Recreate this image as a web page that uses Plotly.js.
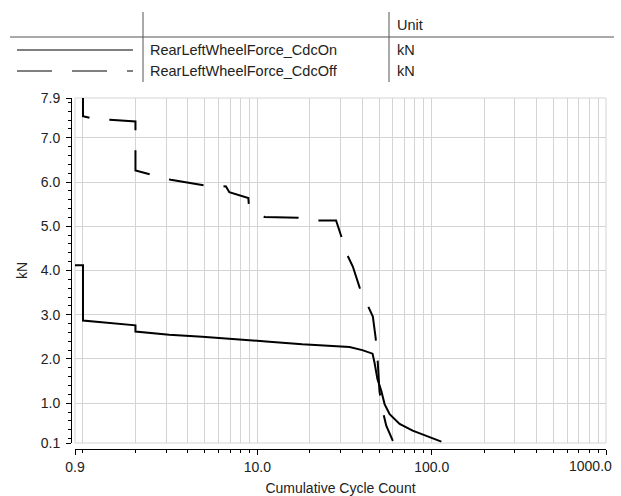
<!DOCTYPE html>
<html>
<head>
<meta charset="utf-8">
<script src="https://cdn.plot.ly/plotly-3.0.1.min.js"></script>
<style>html,body{margin:0;padding:0;background:#fff;}#chart{width:621px;height:496px;}</style>
</head>
<body>
<div id="chart"></div>
<script>
// ---- data ----
const seriesNames = ["RearLeftWheelForce_CdcOn", "RearLeftWheelForce_CdcOff"];
const seriesUnits = ["kN", "kN"];

const cdcOnX = [0.9, 1.0, 1.0, 2.0, 2.0, 3.12, 4.83, 7.57, 11.7, 18.1, 26, 33.8, 40, 45.8, 47.0, 48.9, 51.4, 53.7, 57.4, 65.5, 77.8, 93.3, 113.7];
const cdcOnY = [4.12, 4.12, 2.87, 2.76, 2.62, 2.55, 2.50, 2.45, 2.39, 2.33, 2.29, 2.27, 2.20, 2.12, 1.92, 1.54, 1.28, 0.98, 0.75, 0.53, 0.38, 0.26, 0.13];

const cdcOffX = [0.9, 1.0, 1.0, 1.16, 1.5, 1.97, 2.0, 2.0, 2.5, 3.19, 5.07, 6.61, 6.91, 8.88, 8.95, 11.0, 17.4, 22.2, 28.3, 30.3, 33.0, 35.3, 38.6, 43.1, 46.0, 47.7, 48.9, 50.2, 52.4, 54.9, 59.9];
const cdcOffY = [7.95, 7.95, 7.49, 7.43, 7.40, 7.37, 7.37, 6.26, 6.16, 6.05, 5.92, 5.90, 5.77, 5.64, 5.47, 5.21, 5.19, 5.13, 5.13, 4.76, 4.33, 4.09, 3.62, 3.20, 2.96, 2.48, 2.03, 1.27, 0.83, 0.49, 0.15];

const xTickVals = [0.9, 10, 100, 1000];
const xTickText = ["0.9", "10.0", "100.0", ""];
const xLastLabel = "1000.0";
const xMinorVals = [1,2,3,4,5,6,7,8,9,20,30,40,50,60,70,80,90,200,300,400,500,600,700,800,900];
const yTickVals = [0.1, 1, 2, 3, 4, 5, 6, 7, 7.9];
const yTickText = ["0.1", "1.0", "2.0", "3.0", "4.0", "5.0", "6.0", "7.0", "7.9"];
const yMinorVals = [0.2,0.4,0.6,0.8,1.2,1.4,1.6,1.8,2.2,2.4,2.6,2.8,3.2,3.4,3.6,3.8,4.2,4.4,4.6,4.8,5.2,5.4,5.6,5.8,6.2,6.4,6.6,6.8,7.2,7.4,7.6,7.8];

// ---- geometry (pixels) ----
const W = 621, H = 496;
const mL = 71, mR = 15, mT = 98, mB = 47;
const pw = W - mL - mR, ph = H - mT - mB;
const px = v => (v - mL) / pw;
const py = v => (H - mB - v) / ph;

const font = "Liberation Sans, Arial, sans-serif";
const gridC = "#d4d4d4";
const textC = "#222";

const traces = [
  {x: cdcOnX, y: cdcOnY, mode: "lines", line: {color: "#000", width: 2}, name: seriesNames[0], showlegend: false, hoverinfo: "skip"},
  {x: cdcOffX, y: cdcOffY, mode: "lines", line: {color: "#000", width: 2, dash: "35px,20px"}, name: seriesNames[1], showlegend: false, hoverinfo: "skip"}
];

const shapes = [
  {type: "rect", xref: "paper", yref: "paper", x0: px(75), x1: px(606), y0: py(443), y1: py(98), line: {color: gridC, width: 1}, layer: "below"},
  {type: "line", xref: "paper", yref: "paper", x0: px(10), x1: px(614), y0: py(37), y1: py(37), line: {color: "#555", width: 1}},
  {type: "line", xref: "paper", yref: "paper", x0: px(143), x1: px(143), y0: py(12), y1: py(82), line: {color: "#555", width: 1}},
  {type: "line", xref: "paper", yref: "paper", x0: px(389), x1: px(389), y0: py(12), y1: py(82), line: {color: "#555", width: 1}},
  {type: "line", xref: "paper", yref: "paper", x0: px(17), x1: px(133), y0: py(50), y1: py(50), line: {color: "#000", width: 1}},
  {type: "line", xref: "paper", yref: "paper", x0: px(17), x1: px(133), y0: py(71), y1: py(71), line: {color: "#000", width: 1, dash: "35px,20px"}}
];

const ann = (t, x, y, xa) => ({text: t, xref: "paper", yref: "paper", x: px(x), y: py(y), xanchor: xa || "left", yanchor: "middle", showarrow: false, font: {family: font, size: 14.5, color: "#222"}});
const annotations = [
  ann("Unit", 395, 25),
  ann(seriesNames[0], 148, 50),
  ann(seriesUnits[0], 395, 50),
  ann(seriesNames[1], 148, 71),
  ann(seriesUnits[1], 395, 71),
  {text: xLastLabel, xref: "paper", yref: "paper", x: px(614), y: py(466), xanchor: "right", yanchor: "middle", showarrow: false, font: {family: font, size: 14, color: textC}}
];

const layout = {
  width: W, height: H,
  margin: {l: mL, r: mR, t: mT, b: mB, pad: 0},
  paper_bgcolor: "#fff", plot_bgcolor: "#fff",
  showlegend: false,
  font: {family: font, size: 14, color: textC},
  xaxis: {
    type: "log", range: [Math.log10(0.9), 3], domain: [4 / pw, 1],
    anchor: "free", position: 0,
    tickmode: "array", tickvals: xTickVals, ticktext: xTickText,
    ticks: "outside", ticklen: 5, tickcolor: "#000", tickwidth: 1,
    showline: true, linecolor: "#000", linewidth: 1,
    showgrid: true, gridcolor: gridC, gridwidth: 1, zeroline: false,
    minor: {tickmode: "array", tickvals: xMinorVals, ticks: "outside", ticklen: 3, tickcolor: "#000", showgrid: true, gridcolor: gridC, gridwidth: 1},
    tickfont: {family: font, size: 14, color: textC},
    title: {text: "Cumulative Cycle Count", font: {family: font, size: 14, color: textC}, standoff: 9},
    fixedrange: true
  },
  yaxis: {
    range: [0.1, 7.9], domain: [6 / ph, 1],
    anchor: "free", position: 0,
    tickmode: "array", tickvals: yTickVals, ticktext: yTickText,
    ticks: "outside", ticklen: 5, tickcolor: "#000", tickwidth: 1,
    showline: true, linecolor: "#000", linewidth: 1,
    showgrid: true, gridcolor: gridC, gridwidth: 1, zeroline: false,
    minor: {tickmode: "array", tickvals: yMinorVals, ticks: "outside", ticklen: 3, tickcolor: "#000", showgrid: false},
    tickfont: {family: font, size: 14, color: textC},
    ticklabelstandoff: 3,
    title: {text: "kN", font: {family: font, size: 14, color: textC}, standoff: 8},
    fixedrange: true
  },
  shapes: shapes,
  annotations: annotations
};

Plotly.newPlot("chart", traces, layout, {displayModeBar: false, staticPlot: true});
</script>
</body>
</html>
